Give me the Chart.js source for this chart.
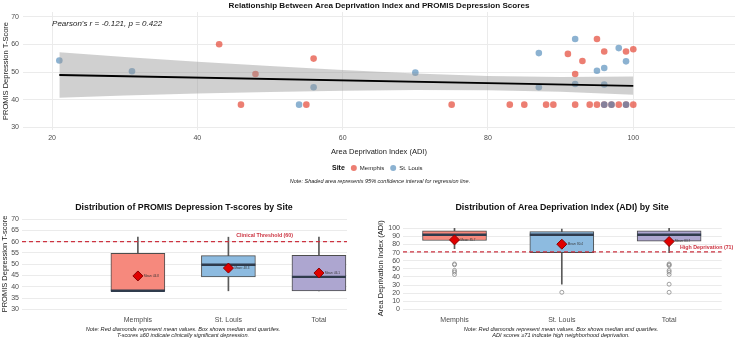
<!DOCTYPE html>
<html><head><meta charset="utf-8">
<script src="https://cdn.jsdelivr.net/npm/chart.js@4.4.1/dist/chart.umd.min.js"></script>
<style>
html,body{margin:0;padding:0;background:#fff;width:740px;height:340px;overflow:hidden}
.c{position:absolute}
canvas{display:block}
</style></head><body>
<div class="c" style="left:0;top:0;width:740px;height:190px"><canvas id="top" width="740" height="190"></canvas></div>
<div class="c" style="left:0;top:190px;width:370px;height:150px"><canvas id="bl" width="370" height="150"></canvas></div>
<div class="c" style="left:370px;top:190px;width:370px;height:150px"><canvas id="br" width="370" height="150"></canvas></div>
<script>
// ---------- Top: scatter data ----------
const memphisADI = [43, 46, 48, 55, 56, 75, 83, 85, 88, 89, 91, 92, 92, 93, 94, 95, 95, 96, 96, 97, 98, 99, 99, 100, 100];
const memphisT   = [60.1, 38.2, 49.3, 38.2, 54.9, 38.2, 38.2, 38.2, 38.2, 38.2, 56.6, 49.3, 38.2, 54.0, 38.2, 62.0, 38.2, 57.5, 38.2, 38.2, 38.2, 57.5, 38.2, 58.3, 38.2];
const stlouisADI = [21, 31, 54, 56, 70, 87, 87, 92, 92, 95, 96, 96, 96, 97, 98, 99, 99];
const stlouisT   = [54.2, 50.3, 38.2, 44.5, 49.8, 56.9, 44.5, 62.0, 45.7, 50.5, 51.5, 45.5, 38.2, 38.2, 58.7, 53.9, 38.2];
const fitX = [21, 100];
const fitY = [48.95, 45.0];
const bandX     = [21, 30, 40, 50, 60, 70, 80, 90, 100];
const bandUpper = [57.2, 55.5, 53.8, 52.2, 50.8, 49.5, 48.6, 48.2, 48.4];
const bandLower = [40.7, 41.5, 42.2, 42.8, 43.2, 43.5, 43.4, 42.9, 41.8];
const topXTicks = [20, 40, 60, 80, 100];
const topYTicks = [30, 40, 50, 60, 70];
const siteNames = ['Memphis', 'St. Louis'];
const pearsonText = "Pearson's r = -0.121, p = 0.422";

// ---------- Bottom: box plot summaries ----------
const sites = ['Memphis', 'St. Louis', 'Total'];
const tWhiskerLow  = [38.2, 38.2, 38.2];
const tQ1          = [38.2, 44.4, 38.2];
const tMedian      = [38.2, 49.8, 44.4];
const tQ3          = [54.8, 53.8, 54.0];
const tWhiskerHigh = [62.0, 62.0, 62.0];
const tMean        = [44.8, 48.3, 46.1];
const tThreshold = 60;
const tYTicks = [30, 35, 40, 45, 50, 55, 60, 65, 70];

const adiWhiskerLow  = [75, 31, 70];
const adiQ1          = [85, 70, 84];
const adiMedian      = [92, 92, 92];
const adiQ3          = [97, 96, 97];
const adiWhiskerHigh = [100, 99, 100];
const adiMean        = [85.7, 80.4, 83.7];
const adiOutliers    = [[56, 55, 48, 46, 43], [21], [56, 55, 54, 48, 46, 43, 31, 21]];
const adiThreshold = 71;
const adiYTicks = [0, 10, 20, 30, 40, 50, 60, 70, 80, 90, 100];

// ---------- styling ----------
const FAM = "'Liberation Sans', Arial, sans-serif";
Chart.defaults.font.family = FAM;
Chart.defaults.color = '#4d4d4d';
Chart.defaults.animation = false;
Chart.defaults.plugins.legend.display = false;
Chart.defaults.plugins.tooltip.enabled = false;

const RED_PT = 'rgba(228,76,60,0.72)';
const BLUE_PT = 'rgba(70,130,180,0.62)';
const boxFills = ['#F6897D', '#8DBBE0', '#ADA6D0'];
const GRID = '#ebebeb';
const THR = '#cc3340';

const fixTicks = vals => scale => { scale.ticks = vals.map(v => ({ value: v })); };
function txt(ctx, s, x, y, font, color, align) {
  ctx.font = font; ctx.fillStyle = color; ctx.textAlign = align || 'center'; ctx.textBaseline = 'middle';
  ctx.fillText(s, x, y);
}
const pts = (xs, ys) => xs.map((x, i) => ({ x, y: ys[i] }));

// ---------- Top chart ----------
new Chart(document.getElementById('top'), {
  type: 'scatter',
  data: { datasets: [
    { type: 'line', data: pts(bandX, bandUpper), borderWidth: 0, pointRadius: 0, fill: '+1', backgroundColor: 'rgba(150,150,150,0.45)', order: 1 },
    { type: 'line', data: pts(bandX, bandLower), borderWidth: 0, pointRadius: 0, fill: false, order: 1 },
    { type: 'line', data: pts(fitX, fitY), borderColor: '#000', borderWidth: 1.8, pointRadius: 0, fill: false, order: 0 },
    { label: siteNames[0], data: pts(memphisADI, memphisT), backgroundColor: RED_PT, borderWidth: 0, pointRadius: 3.3, order: 3 },
    { label: siteNames[1], data: pts(stlouisADI, stlouisT), backgroundColor: BLUE_PT, borderWidth: 0, pointRadius: 3.3, order: 2 }
  ]},
  options: {
    responsive: false, events: [],
    layout: { autoPadding: false, padding: { top: 12, right: 5, bottom: 34, left: 0 } },
    scales: {
      x: { type: 'linear', min: 16, max: 114, afterBuildTicks: fixTicks(topXTicks), afterFit: s => { s.height = 26; },
           grid: { color: GRID, drawTicks: false }, border: { display: false },
           ticks: { font: { size: 7 }, padding: 4, color: '#4d4d4d', autoSkip: false },
           title: { display: true, text: 'Area Deprivation Index (ADI)', font: { size: 7.5 }, color: '#1a1a1a', padding: 0 } },
      y: { type: 'linear', min: 29, max: 71.8, afterBuildTicks: fixTicks(topYTicks), afterFit: s => { s.width = 23; },
           grid: { color: GRID, drawTicks: false }, border: { display: false },
           ticks: { font: { size: 7 }, padding: 4, color: '#4d4d4d', autoSkip: false },
           title: { display: true, text: 'PROMIS Depression T-Score', font: { size: 7.5 }, color: '#1a1a1a', padding: { top: 1.5, bottom: 0 } } }
    }
  },
  plugins: [{ id: 'topText', afterDraw(chart) {
    const ctx = chart.ctx, xs = chart.scales.x, ys = chart.scales.y;
    ctx.save();
    txt(ctx, 'Relationship Between Area Deprivation Index and PROMIS Depression Scores', 379, 5.5, `bold 8.1px ${FAM}`, '#111');
    txt(ctx, pearsonText, xs.getPixelForValue(20), ys.getPixelForValue(67.5), `italic 8px ${FAM}`, '#222', 'left');
    // legend
    let x = 332; const y = 168;
    txt(ctx, 'Site', x, y, `bold 7px ${FAM}`, '#111', 'left');
    ctx.font = `bold 7px ${FAM}`; x += ctx.measureText('Site').width + 6;
    [RED_PT, BLUE_PT].forEach((col, i) => {
      ctx.beginPath(); ctx.arc(x + 3, y, 3, 0, Math.PI * 2); ctx.fillStyle = col; ctx.fill();
      x += 9;
      txt(ctx, siteNames[i], x, y, `6px ${FAM}`, '#222', 'left');
      ctx.font = `6px ${FAM}`; x += ctx.measureText(siteNames[i]).width + 6;
    });
    txt(ctx, 'Note: Shaded area represents 95% confidence interval for regression line.', 380, 181, `italic 5.5px ${FAM}`, '#222');
    ctx.restore();
  }}]
});

// ---------- Box plot builder ----------
function boxChart(id, o) {
  const dsets = [
    { type: 'bar', data: sites.map((s, i) => ({ x: i + 1, y: [o.wl[i], o.wh[i]] })), backgroundColor: '#5a5a5a', barThickness: 1, grouped: false, order: 6 },
    { type: 'bar', data: sites.map((s, i) => ({ x: i + 1, y: [o.q1[i], o.q3[i]] })), backgroundColor: boxFills, borderColor: '#4d4d4d', borderWidth: 1, borderSkipped: false, barThickness: o.bw, grouped: false, order: 5 },
    { type: 'scatter', data: sites.map((s, i) => ({ x: i + 1, y: o.med[i] })), pointStyle: 'line', pointRadius: o.bw / 2, borderColor: '#2f3b4c', borderWidth: 2.4, order: 4 }
  ];
  if (o.out) dsets.push({ type: 'scatter', data: o.out.flatMap((arr, i) => arr.map(v => ({ x: i + 1, y: v }))), pointRadius: 2, backgroundColor: 'rgba(0,0,0,0)', borderColor: '#8c8c8c', borderWidth: 0.8, order: 3 });
  dsets.push({ type: 'line', data: [{ x: o.xmin, y: o.thr }, { x: o.xmax, y: o.thr }], borderColor: THR, borderDash: [4, 3], borderWidth: 1.2, pointRadius: 0, fill: false, order: 2 });
  dsets.push({ type: 'scatter', data: sites.map((s, i) => ({ x: i + 1, y: o.mean[i] })), pointStyle: 'rectRot', pointRadius: 5, backgroundColor: '#e00000', borderColor: '#8b0000', borderWidth: 1, order: 1 });
  new Chart(document.getElementById(id), {
    type: 'bar',
    data: { datasets: dsets },
    options: {
      responsive: false, events: [],
      layout: { autoPadding: false, padding: { top: o.padTop, right: o.padRight, bottom: 14, left: 0 } },
      scales: {
        x: { type: 'linear', min: o.xmin, max: o.xmax, offset: false, afterBuildTicks: fixTicks([1, 2, 3]), afterFit: s => { s.height = 14; },
             grid: { display: false, offset: false }, border: { display: false },
             ticks: { display: false } },
        y: { type: 'linear', min: o.ymin, max: o.ymax, beginAtZero: false, afterBuildTicks: fixTicks(o.yticks), afterFit: s => { s.width = o.yw; },
             grid: { color: GRID, drawTicks: false }, border: { display: false },
             ticks: { font: { size: 7 }, padding: 3, color: '#4d4d4d', autoSkip: false },
             title: { display: true, text: o.ytitle, font: { size: 7.5 }, color: '#1a1a1a', padding: { top: o.ytp, bottom: 0 } } }
      }
    },
    plugins: [{ id: id + 'Text', afterDraw(chart) {
      const ctx = chart.ctx, xs = chart.scales.x, ys = chart.scales.y;
      ctx.save();
      txt(ctx, o.title, o.cx, 17.5, `bold 8.8px ${FAM}`, '#111');
      sites.forEach((s, i) => txt(ctx, s, xs.getPixelForValue(i + 1), chart.chartArea.bottom + 8, `7px ${FAM}`, '#4d4d4d'));
      o.mean.forEach((m, i) => {
        txt(ctx, 'Mean: ' + m.toFixed(1), xs.getPixelForValue(i + 1) + 6, ys.getPixelForValue(m), `3px ${FAM}`, '#333', 'left');
      });
      txt(ctx, o.thrLabel, xs.getPixelForValue(o.thrX), ys.getPixelForValue(o.thrY), `bold 5.3px ${FAM}`, THR);
      txt(ctx, o.note1, o.cx - 1, 139.7, `italic 5.6px ${FAM}`, '#222');
      txt(ctx, o.note2, o.cx - 1, 145.7, `italic 5.6px ${FAM}`, '#222');
      ctx.restore();
    }}]
  });
}

boxChart('bl', {
  wl: tWhiskerLow, q1: tQ1, med: tMedian, q3: tQ3, wh: tWhiskerHigh, mean: tMean, thr: tThreshold,
  yticks: tYTicks, ymin: 28.8, ymax: 71.4, xmin: -0.28, xmax: 3.31, bw: 54, yw: 22, ytp: 0,
  padTop: 26, padRight: 23, cx: 184,
  title: 'Distribution of PROMIS Depression T-scores by Site', ytitle: 'PROMIS Depression T-score',
  thrLabel: 'Clinical Threshold (60)', thrX: 2.4, thrY: 62.8,
  note1: 'Note: Red diamonds represent mean values. Box shows median and quartiles.',
  note2: 'T-scores \u226560 indicate clinically significant depression.'
});
boxChart('br', {
  wl: adiWhiskerLow, q1: adiQ1, med: adiMedian, q3: adiQ3, wh: adiWhiskerHigh, mean: adiMean, thr: adiThreshold, out: adiOutliers,
  yticks: adiYTicks, ymin: -3.3, ymax: 104.7, xmin: 0.52, xmax: 3.49, bw: 64, yw: 33, ytp: 6.5,
  padTop: 34.5, padRight: 18.3, cx: 192,
  title: 'Distribution of Area Deprivation Index (ADI) by Site', ytitle: 'Area Deprivation Index (ADI)',
  thrLabel: 'High Deprivation (71)', thrX: 3.35, thrY: 76,
  note1: 'Note: Red diamonds represent mean values. Box shows median and quartiles.',
  note2: 'ADI scores \u226571 indicate high neighborhood deprivation.'
});
</script>
</body></html>
